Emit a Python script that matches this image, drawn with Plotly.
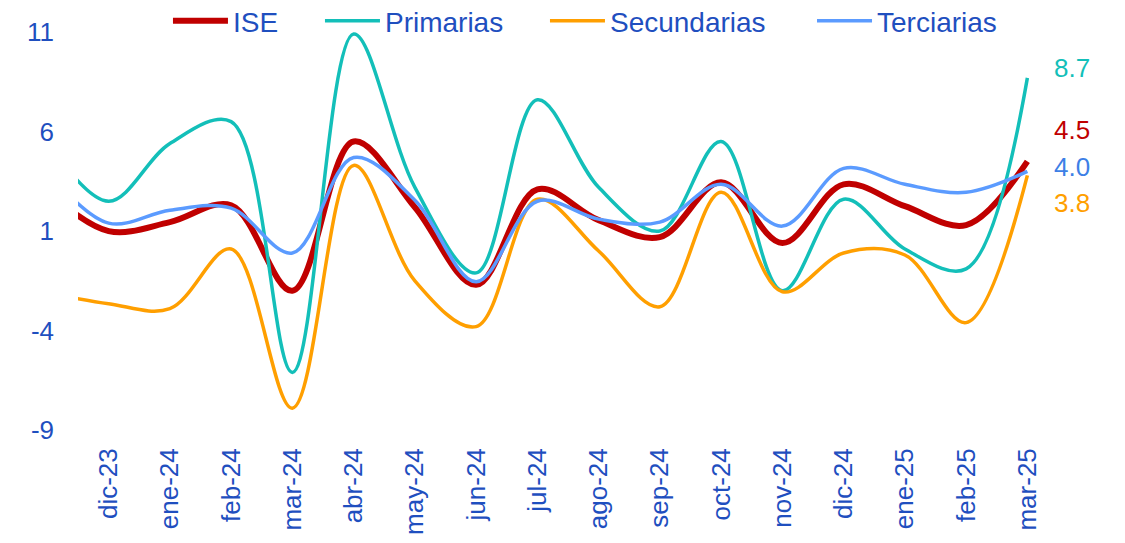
import plotly.graph_objects as go

# meses (nov-23 queda fuera del area visible, solo da la entrada de la curva)
meses = ["nov-23", "dic-23", "ene-24", "feb-24", "mar-24", "abr-24", "may-24", "jun-24",
         "jul-24", "ago-24", "sep-24", "oct-24", "nov-24", "dic-24", "ene-25", "feb-25", "mar-25"]

ise = [3.0, 1.0, 1.45, 2.3, -2.0, 5.5, 2.2, -1.7, 3.1, 1.55, 0.7, 3.45, 0.4, 3.35, 2.25, 1.3, 4.5]
primarias = [5.5, 2.5, 5.4, 6.5, -6.1, 10.9, 3.2, -1.1, 7.6, 3.2, 1.0, 5.5, -2.0, 2.6, 0.1, -0.9, 8.7]
secundarias = [-2.1, -2.65, -2.9, 0.1, -7.9, 4.3, -1.5, -3.8, 2.6, 0.0, -2.8, 2.95, -2.05, -0.1, -0.2, -3.6, 3.8]
terciarias = [4.0, 1.4, 2.05, 2.15, -0.1, 4.7, 2.55, -1.55, 2.5, 1.6, 1.45, 3.35, 1.25, 4.15, 3.35, 2.95, 4.0]

y_ticks = [-9, -4, 1, 6, 11]

FONT = "Liberation Sans, Arial, sans-serif"
AZUL = "#1f4fbf"

x = list(range(-1, len(meses) - 1))

# nombre, datos, color, grosor, color etiqueta, desplazamiento etiqueta, posicion leyenda
series = [
    ("ISE", ise, "#c00000", 6, "#c00000", 31, 0.0918),
    ("Primarias", primarias, "#13bfb9", 3.5, "#13bfb9", 10, 0.2469),
    ("Secundarias", secundarias, "#ff9f00", 3.5, "#ff9f00", -28, 0.4765),
    ("Terciarias", terciarias, "#5b9bff", 3.5, "#3d7fe6", 4, 0.749),
]

fig = go.Figure()
legends = {}
for i, (name, vals, color, width, lblcolor, shift, lx) in enumerate(series):
    lg = "legend" if i == 0 else f"legend{i + 1}"
    fig.add_trace(go.Scatter(
        x=x, y=vals, name=name, mode="lines", legend=lg,
        line=dict(color=color, width=width, shape="spline", smoothing=1.0),
    ))
    fig.add_annotation(
        x=x[-1], y=vals[-1], text=f"{vals[-1]:.1f}", showarrow=False,
        xanchor="center", xshift=45, yshift=shift,
        font=dict(family=FONT, size=26, color=lblcolor),
    )
    legends[lg] = dict(
        orientation="h", xref="paper", x=lx, xanchor="left",
        yref="paper", y=1.027, yanchor="top",
        font=dict(size=28, color=AZUL), itemwidth=55,
        bgcolor="rgba(0,0,0,0)",
    )

fig.update_layout(
    width=1125, height=543,
    margin=dict(l=70, r=75, t=0, b=103, autoexpand=False),
    paper_bgcolor="white", plot_bgcolor="white",
    font=dict(family=FONT, color=AZUL),
    showlegend=True,
    **legends,
)
fig.update_xaxes(
    range=[-0.5, 15.5],
    tickmode="array", tickvals=x[1:], ticktext=meses[1:],
    tickangle=-90, tickfont=dict(size=26, color=AZUL), ticklabelstandoff=-6,
    showgrid=False, zeroline=False, showline=False, ticks="",
)
fig.update_yaxes(
    range=[-9.9, 12.21],
    tickmode="array", tickvals=y_ticks, ticktext=[str(v) for v in y_ticks],
    tickfont=dict(size=26, color=AZUL), ticklabelstandoff=23,
    showgrid=False, zeroline=False, showline=False, ticks="",
)

fig.write_html("out.html")
